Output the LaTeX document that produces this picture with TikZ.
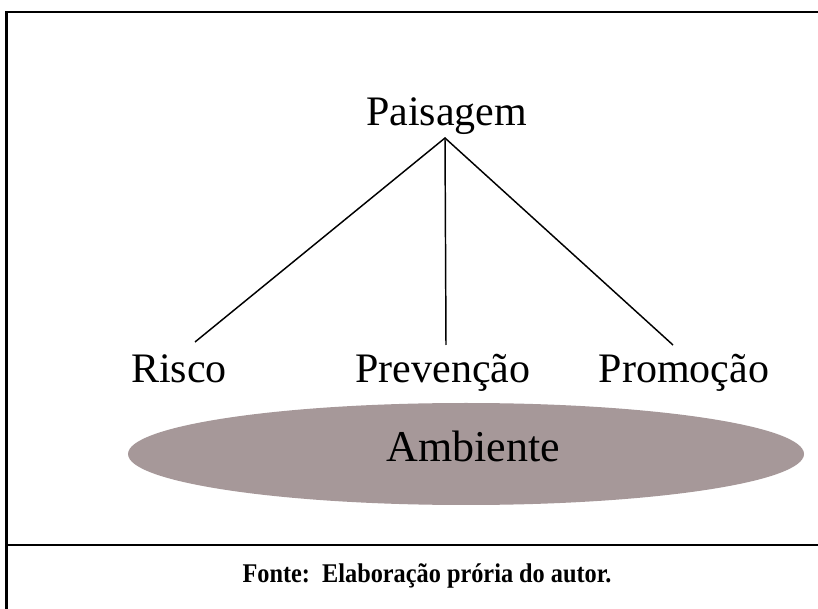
\documentclass[tikz,border=0pt]{standalone}
\usepackage{fontspec}
\setmainfont{Liberation Serif}
\definecolor{ambfill}{RGB}{166,152,153}
\begin{document}
\begin{tikzpicture}[x=0.75pt,y=-0.75pt,
  lbl/.style={inner sep=0pt,anchor=base,font=\fontsize{31.5}{36}\selectfont},
  conn/.style={draw=black,line width=1.1pt},
  frame/.style={draw=black,line width=1.6pt}]
\useasboundingbox (0,0) rectangle (818,609);
\fill[white] (0,0) rectangle (818,609);
% frame
\draw[frame] (6.5,609) -- (6.5,12) -- (818,12);
\draw[frame] (6.5,545) -- (818,545);
% ellipse
\fill[ambfill] (466,454) ellipse [x radius=338, y radius=51];
% labels
\node[lbl] (pais) at (446.5,126) {Paisagem};
\node[lbl] (risco) at (179,383) {Risco};
\node[lbl] (prev) at (443,383) {Prevenção};
\node[lbl] (prom) at (684,383) {Promoção};
\node[lbl,font=\fontsize{33}{38}\selectfont] (amb) at (473.5,462) {Ambiente};
\node[inner sep=0pt,anchor=base,font=\fontsize{20.25}{24}\selectfont\bfseries] (fonte) at (427,582) {\scalebox{0.9}[1]{Fonte:\ \ Elaboração prória do autor.}};
% connector ends
\coordinate (apex) at (445,138);
\coordinate (rEnd) at (195,342);
\coordinate (pEnd) at (446,345);
\coordinate (mEnd) at (673,345);
\draw[conn] (rEnd) -- (apex) -- (mEnd);
\draw[conn] (apex) -- (pEnd);
\end{tikzpicture}
\end{document}
